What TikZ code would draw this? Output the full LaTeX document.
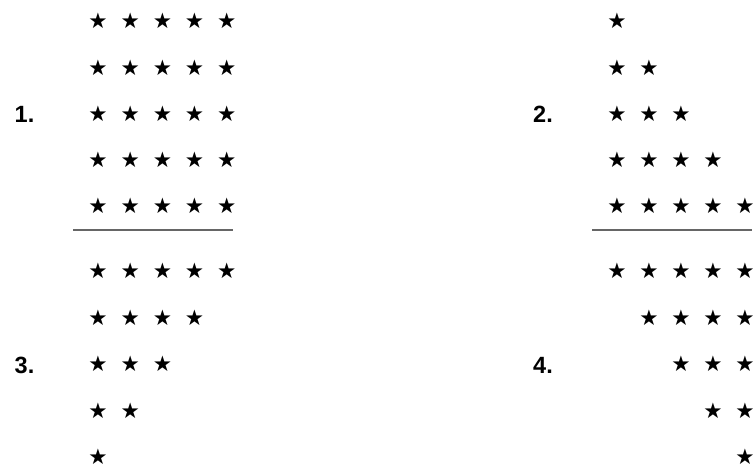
\documentclass[tikz,border=0pt]{standalone}
\usepackage{fontspec}
\setmainfont{Liberation Sans}
\newfontfamily\symfont{DejaVu Sans}
\begin{document}
\begin{tikzpicture}[x=1pt,y=-1pt,
  staricon/.style={inner sep=0pt,font=\symfont\fontsize{21.5}{21.5}\selectfont},
  numlabel/.style={inner sep=0pt,font=\bfseries\fontsize{23.5}{23.5}\selectfont},
  ruleline/.style={draw=black!60,line width=1.8pt}]
\useasboundingbox (0,0) rectangle (755,476);
% panel 1: full square
\foreach \r in {0,...,4}{
  \foreach \c in {0,...,4}{
    \node[staricon] (a-\r-\c) at ({98+32.2*\c},{21+46.3*\r}) {★};
  }
}
\node[numlabel] (n1) at (24.5,114) {1.};
% panel 2: growing triangle
\foreach \r in {0,...,4}{
  \foreach \c in {0,...,\r}{
    \node[staricon] (b-\r-\c) at ({617+32*\c},{21+46.3*\r}) {★};
  }
}
\node[numlabel] (n2) at (543,114) {2.};
% rules
\coordinate (l1a) at (73,230); \coordinate (l1b) at (233,230);
\coordinate (l2a) at (592,230); \coordinate (l2b) at (752,230);
\draw[ruleline] (l1a) -- (l1b);
\draw[ruleline] (l2a) -- (l2b);
% panel 3: shrinking triangle, left aligned
\foreach \r in {0,...,4}{
  \pgfmathtruncatemacro{\n}{4-\r}
  \foreach \c in {0,...,\n}{
    \node[staricon] (c-\r-\c) at ({98+32.2*\c},{271+46.5*\r}) {★};
  }
}
\node[numlabel] (n3) at (24.5,365) {3.};
% panel 4: shrinking triangle, right aligned
\foreach \r in {0,...,4}{
  \foreach \c in {\r,...,4}{
    \node[staricon] (d-\r-\c) at ({617+32*\c},{271+46.5*\r}) {★};
  }
}
\node[numlabel] (n4) at (543,365) {4.};
\end{tikzpicture}
\end{document}
